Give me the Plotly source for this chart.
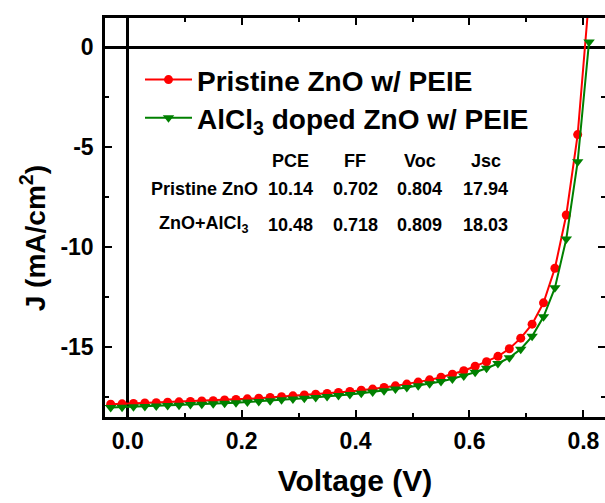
import plotly.graph_objects as go

# Bias voltage (V)
voltage = [-0.03, -0.01, 0.01, 0.03, 0.05, 0.07, 0.09, 0.11, 0.13, 0.15,
           0.17, 0.19, 0.21, 0.23, 0.25, 0.27, 0.29, 0.31, 0.33, 0.35,
           0.37, 0.39, 0.41, 0.43, 0.45, 0.47, 0.49, 0.51, 0.53, 0.55,
           0.57, 0.59, 0.61, 0.63, 0.65, 0.67, 0.69, 0.71, 0.73, 0.75,
           0.77, 0.79, 0.81]

# Current density (mA/cm^2), pristine ZnO w/ PEIE
j_pristine = [-17.88, -17.86, -17.84, -17.82, -17.80, -17.78, -17.76, -17.74, -17.72, -17.70,
              -17.67, -17.64, -17.61, -17.58, -17.54, -17.50, -17.46, -17.42, -17.38, -17.34,
              -17.29, -17.24, -17.18, -17.12, -17.04, -16.96, -16.87, -16.77, -16.66, -16.53,
              -16.38, -16.20, -15.98, -15.75, -15.48, -15.10, -14.57, -13.87, -12.80, -11.07,
              -8.40, -4.37, 2.50]

# Current density (mA/cm^2), AlCl3 doped ZnO w/ PEIE
j_alcl3 = [-18.05, -18.03, -18.01, -17.99, -17.97, -17.95, -17.93, -17.90, -17.88, -17.85,
           -17.83, -17.80, -17.77, -17.74, -17.70, -17.66, -17.62, -17.58, -17.54, -17.49,
           -17.44, -17.39, -17.33, -17.27, -17.20, -17.12, -17.04, -16.95, -16.85, -16.74,
           -16.61, -16.46, -16.28, -16.08, -15.84, -15.55, -15.12, -14.48, -13.50, -12.05,
           -9.60, -5.73, 0.27]

series_names = ["Pristine ZnO w/ PEIE", "AlCl<sub>3</sub> doped ZnO w/ PEIE"]

# Device parameter table
table_header = ["PCE", "FF", "Voc", "Jsc"]
table_rows = ["Pristine ZnO", "ZnO+AlCl<sub>3</sub>"]
table_values = [["10.14", "0.702", "0.804", "17.94"],
                ["10.48", "0.718", "0.809", "18.03"]]

x_tickvals = [0.0, 0.2, 0.4, 0.6, 0.8]
x_ticktext = ["0.0", "0.2", "0.4", "0.6", "0.8"]
y_tickvals = [-15, -10, -5, 0]
y_ticktext = ["-15", "-10", "-5", "0"]

FONT = "Arial, 'Liberation Sans', sans-serif"
X_RANGE = [-0.04, 0.838]
Y_RANGE = [-18.52, 1.47]

fig = go.Figure()
fig.add_trace(go.Scatter(
    x=voltage, y=j_pristine, name=series_names[0], mode="lines+markers",
    line=dict(color="#FF0000", width=2),
    marker=dict(symbol="circle", size=9, color="#FF0000"),
    legend="legend",
))
fig.add_trace(go.Scatter(
    x=voltage, y=j_alcl3, name=series_names[1], mode="lines+markers",
    line=dict(color="#008000", width=2),
    marker=dict(symbol="triangle-down", size=10, color="#008000"),
    legend="legend2",
))
# empty trace that carries the right-hand tick axis
fig.add_trace(go.Scatter(x=[], y=[], yaxis="y2", showlegend=False, hoverinfo="skip"))

# parameter table as text
col_x = [0.286, 0.399, 0.513, 0.629]
head_y = -5.70
row_y = [-7.10, -8.90]
row_label_x = 0.134
tfont = dict(family=FONT, size=18, color="black", weight="bold")
for cx, h in zip(col_x, table_header):
    fig.add_annotation(x=cx, y=head_y, text=h, showarrow=False, font=tfont,
                       xanchor="center", yanchor="middle")
for ry, label, vals in zip(row_y, table_rows, table_values):
    fig.add_annotation(x=row_label_x, y=ry, text=label, showarrow=False, font=tfont,
                       xanchor="center", yanchor="middle")
    for cx, v in zip(col_x, vals):
        fig.add_annotation(x=cx, y=ry, text=v, showarrow=False, font=tfont,
                           xanchor="center", yanchor="middle")

# y-axis title
fig.add_annotation(x=-0.144, y=0.448, xref="paper", yref="paper",
                   text="J (mA/cm<sup>2</sup>)", textangle=-90, showarrow=False,
                   xanchor="center", yanchor="middle",
                   font=dict(family=FONT, size=28, color="black", weight="bold"))

axis_common = dict(
    showgrid=False,
    showline=True, linecolor="black", linewidth=2.5,
    ticks="inside", ticklen=7, tickwidth=2, tickcolor="black",
    zeroline=True, zerolinecolor="black", zerolinewidth=2.5,
    tickfont=dict(family=FONT, size=23, color="black", weight="bold"),
)

legend_common = dict(
    xanchor="left", yanchor="top",
    bgcolor="rgba(0,0,0,0)", borderwidth=0,
    itemwidth=47, tracegroupgap=0,
    font=dict(family=FONT, size=28, color="black", weight="bold"),
)

fig.update_layout(
    width=605, height=503,
    margin=dict(l=105, r=0, t=18, b=86),
    paper_bgcolor="white", plot_bgcolor="white",
    font=dict(family=FONT, color="black"),
    xaxis=dict(
        range=X_RANGE, tickvals=x_tickvals, ticktext=x_ticktext,
        mirror="ticks", ticklabelstandoff=2,
        minor=dict(ticks="inside", ticklen=4, tickwidth=2, tickcolor="black",
                   dtick=0.1, tick0=0.0, showgrid=False),
        title=dict(text="Voltage (V)", standoff=17,
                   font=dict(family=FONT, size=30, color="black", weight="bold")),
        **axis_common,
    ),
    yaxis=dict(
        range=Y_RANGE, tickvals=y_tickvals, ticktext=y_ticktext,
        ticklabelstandoff=4,
        minor=dict(ticks="inside", ticklen=4, tickwidth=2, tickcolor="black",
                   dtick=2.5, tick0=0.0, showgrid=False),
        **axis_common,
    ),
    yaxis2=dict(
        overlaying="y", side="right", anchor="x", range=Y_RANGE,
        tickvals=y_tickvals, showticklabels=False, showline=False,
        showgrid=False, zeroline=False,
        ticks="inside", ticklen=7, tickwidth=2, tickcolor="black",
        minor=dict(ticks="inside", ticklen=4, tickwidth=2, tickcolor="black",
                   dtick=2.5, tick0=0.0),
    ),
    legend=dict(x=0.07, y=0.9075, **legend_common),
    legend2=dict(x=0.07, y=0.812, **legend_common),
    showlegend=True,
)

fig.write_html("out.html")
